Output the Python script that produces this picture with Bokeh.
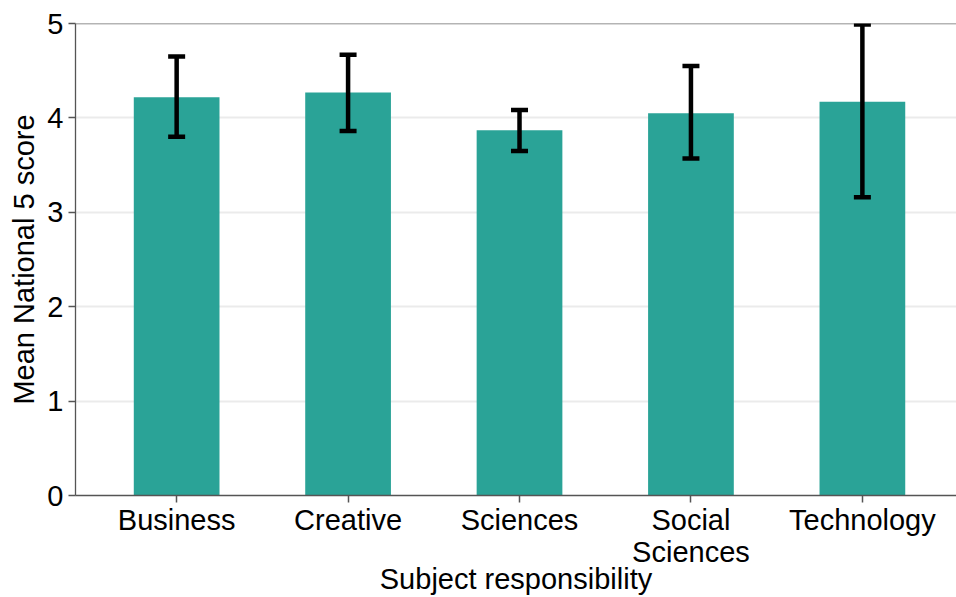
from bokeh.plotting import figure
from bokeh.models import ColumnDataSource, Range1d, FixedTicker, Whisker, TeeHead, Span
from bokeh.embed import file_html
from bokeh.resources import INLINE
import numpy as np

# Mean National 5 score by subject responsibility, with error intervals
subjects = ["Business", "Creative", "Sciences", "Social\nSciences", "Technology"]
mean_score = [4.22, 4.27, 3.87, 4.05, 4.17]
lower_ci = [3.80, 3.86, 3.65, 3.57, 3.16]
upper_ci = [4.65, 4.67, 4.085, 4.55, 4.99]
y_ticks = [0, 1, 2, 3, 4, 5]

xpos = list(np.arange(len(subjects)))
src = ColumnDataSource(dict(x=xpos, top=mean_score, lower=lower_ci, upper=upper_ci))

FONT = "Liberation Sans"

p = figure(width=956, height=597, output_backend="svg", toolbar_location=None,
           x_range=Range1d(-0.59, 4.549), y_range=Range1d(0, 5),
           min_border_left=75, min_border_right=0, min_border_top=23, min_border_bottom=98)
p.outline_line_color = None
p.background_fill_color = "white"
p.border_fill_color = "white"

p.vbar(x="x", top="top", width=0.5, bottom=0, source=src,
       fill_color="#2aa397", line_color=None)

head_u = TeeHead(size=17, line_width=4.5, line_color="black")
head_l = TeeHead(size=17, line_width=4.5, line_color="black")
p.add_layout(Whisker(base="x", lower="lower", upper="upper", source=src,
                     line_width=4.5, line_color="black", level="overlay",
                     upper_head=head_u, lower_head=head_l))

# top border of the panel
p.add_layout(Span(location=5, dimension="width", line_color="#6b6b6b", line_width=1.3))

# grid
p.xgrid.visible = False
p.ygrid.ticker = FixedTicker(ticks=y_ticks)
p.ygrid.grid_line_color = "#ebebeb"
p.ygrid.grid_line_width = 2

# axes
p.xaxis.ticker = FixedTicker(ticks=xpos)
p.xaxis.major_label_overrides = {int(i): s for i, s in zip(xpos, subjects)}
p.yaxis.ticker = FixedTicker(ticks=y_ticks)
p.xaxis.minor_tick_line_color = None
p.yaxis.minor_tick_line_color = None

for ax in (p.xaxis[0], p.yaxis[0]):
    ax.axis_line_color = "#555555"
    ax.axis_line_width = 1.3
    ax.major_tick_line_color = "#555555"
    ax.major_tick_line_width = 1.5
    ax.major_tick_out = 7
    ax.major_tick_in = 0
    ax.major_label_text_font = FONT
    ax.major_label_text_font_size = "29px"
    ax.major_label_text_line_height = 1.0
    ax.major_label_text_color = "black"
    ax.axis_label_text_font = FONT
    ax.axis_label_text_font_size = "29px"
    ax.axis_label_text_font_style = "normal"
    ax.axis_label_text_color = "black"

p.xaxis.axis_label = "Subject responsibility"
p.yaxis.axis_label = "Mean National 5 score"
p.xaxis.major_label_standoff = 1
p.xaxis.axis_label_standoff = -8
p.yaxis.major_label_standoff = 5
p.yaxis.axis_label_standoff = 4

open("out.html", "w").write(file_html(p, INLINE))
